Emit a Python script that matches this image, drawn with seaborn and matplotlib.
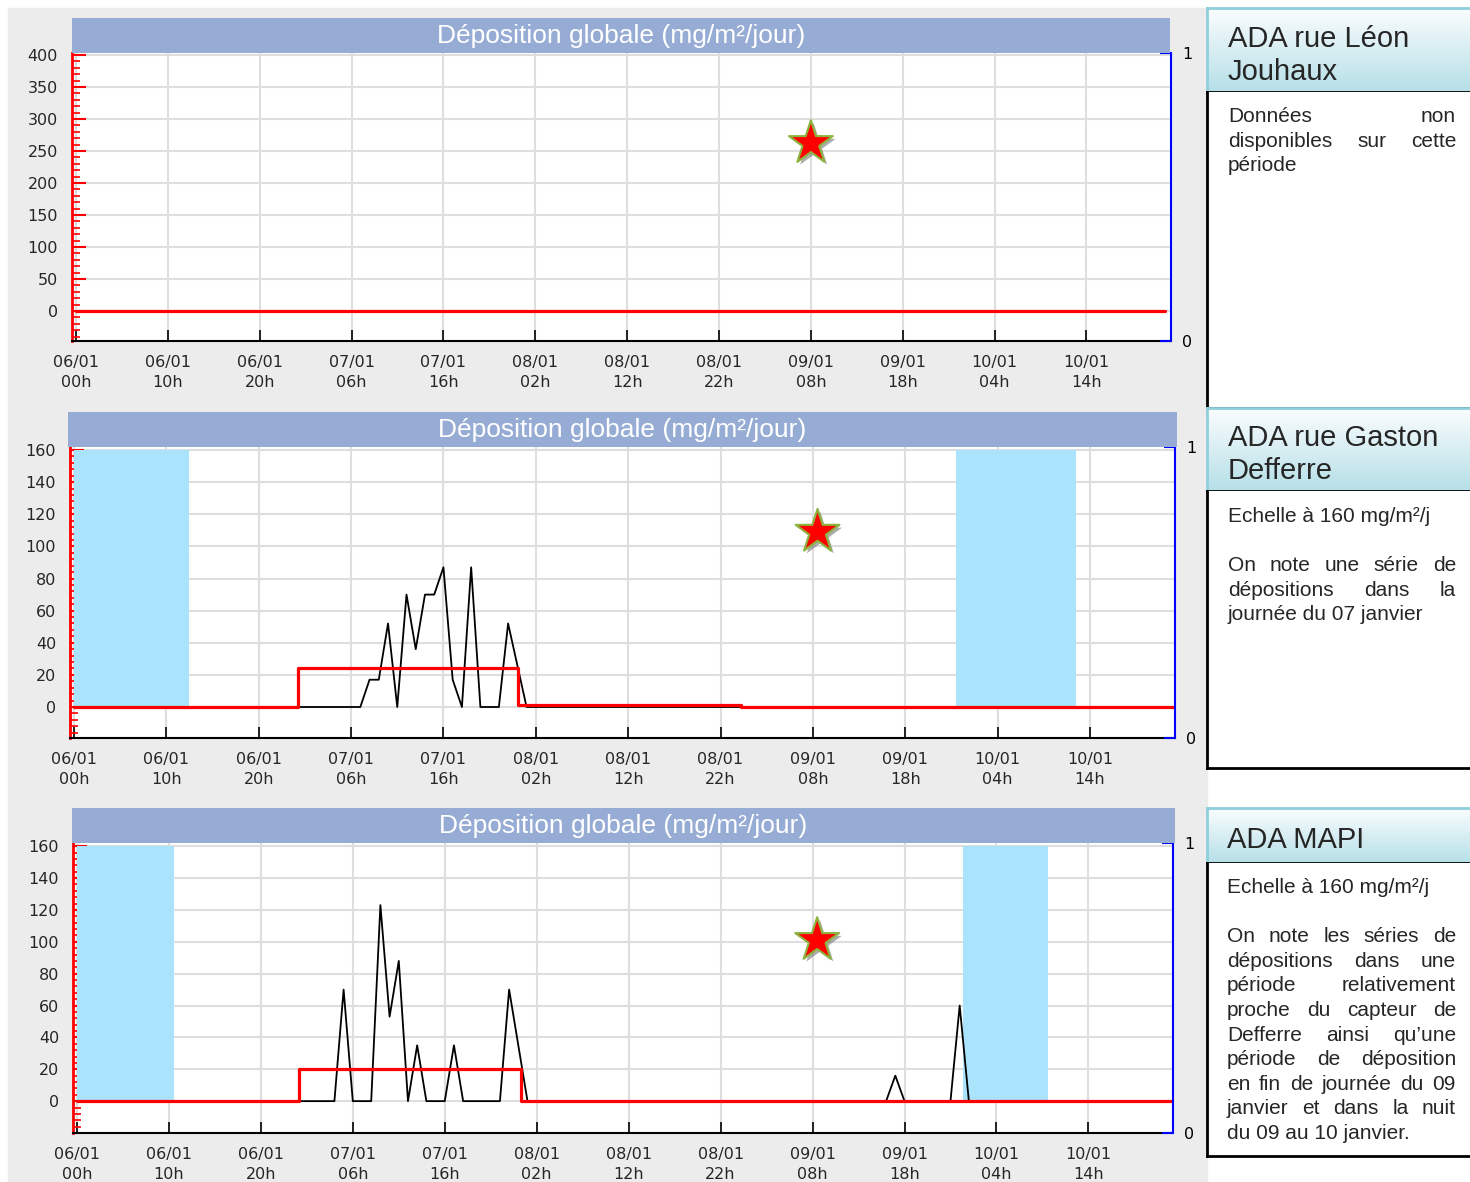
import numpy as np
import matplotlib
matplotlib.use("Agg")
import matplotlib.pyplot as plt
import seaborn as sns
from matplotlib import patheffects
from matplotlib.patches import Rectangle
from matplotlib.ticker import MultipleLocator
from matplotlib.colors import LinearSegmentedColormap

# -----------------------------
# Data (hours counted from 06/01 00h)
# -----------------------------
tick_hours = [0, 10, 20, 30, 40, 50, 60, 70, 80, 90, 100, 110]
tick_labels = ["06/01\n00h", "06/01\n10h", "06/01\n20h", "07/01\n06h",
               "07/01\n16h", "08/01\n02h", "08/01\n12h", "08/01\n22h",
               "09/01\n08h", "09/01\n18h", "10/01\n04h", "10/01\n14h"]
chart_title = "Déposition globale (mg/m²/jour)"

# panel 1 - Léon Jouhaux (no data)
p1_red_hours = [0, 118.5]
p1_red_values = [0, 0]
p1_star = (80, 262)

# panel 2 - Gaston Defferre
p2_hours = [0, 31, 32, 33, 34, 35, 36, 37, 38, 39, 40, 41, 42, 43, 44, 46, 47, 48, 49, 119]
p2_values = [0, 0, 17, 17, 52, 0, 70, 36, 70, 70, 87, 17, 0, 87, 0, 0, 52, 26, 0, 0]
p2_red_hours = [0, 24.2, 48.1, 72.2, 119]
p2_red_values = [0, 24, 1, 0, 0]
p2_night = [(0, 12.5), (95.5, 108.5)]
p2_star = (80.5, 109)

# panel 3 - MAPI
p3_hours = [0, 28, 29, 30, 32, 33, 34, 35, 36, 37, 38, 40, 41, 42, 46, 47, 48, 49,
            88, 89, 90, 95, 96, 97, 119]
p3_values = [0, 0, 70, 0, 0, 123, 53, 88, 0, 35, 0, 0, 35, 0, 0, 70, 35, 0,
             0, 16, 0, 0, 60, 0, 0]
p3_red_hours = [0, 24.1, 48.3, 119]
p3_red_values = [0, 20, 0, 0]
p3_night = [(0, 10.5), (96.4, 105.6)]
p3_star = (80.5, 101)

# side notes
box1_title = ["ADA rue Léon", "Jouhaux"]
box1_text = [("Données non", True), ("disponibles sur cette", True), ("période", False)]
box2_title = ["ADA rue Gaston", "Defferre"]
box2_text = [("Echelle à 160 mg/m²/j", False), ("", False),
             ("On note une série de", True), ("dépositions dans la", True),
             ("journée du 07 janvier", False)]
box3_title = ["ADA MAPI"]
box3_text = [("Echelle à 160 mg/m²/j", False), ("", False),
             ("On note les séries de", True), ("dépositions dans une", True),
             ("période relativement", True), ("proche du capteur de", True),
             ("Defferre ainsi qu’une", True), ("période de déposition", True),
             ("en fin de journée du 09", True), ("janvier et dans la nuit", True),
             ("du 09 au 10 janvier.", False)]

# -----------------------------
# Figure setup
# -----------------------------
sns.set_style("white")
plt.rcParams['font.family'] = ['DejaVu Sans']

W, H = 1470, 1182
fig = plt.figure(figsize=(W / 100, H / 100), dpi=100)


def rect(x0, y0, x1, y1):
    return [x0 / W, 1 - y1 / H, (x1 - x0) / W, (y1 - y0) / H]


fig.add_artist(Rectangle((8 / W, 0), (1207 - 8) / W, (H - 8) / H,
                         transform=fig.transFigure, color="#ececec", zorder=-10))

panels = [
    dict(ax=(72, 53, 1171, 341), bar=(72, 18, 1170, 53), ylim=(-47, 403), major=50, minor=10,
         ymax=400, black=None, red=(p1_red_hours, p1_red_values), night=[], star=p1_star),
    dict(ax=(70, 447, 1175, 738), bar=(68, 412, 1177, 447), ylim=(-19.3, 161.9), major=20, minor=4,
         ymax=160, black=(p2_hours, p2_values), red=(p2_red_hours, p2_red_values),
         night=p2_night, star=p2_star),
    dict(ax=(73, 843, 1173, 1133), bar=(72, 808, 1175, 843), ylim=(-20, 162), major=20, minor=4,
         ymax=160, black=(p3_hours, p3_values), red=(p3_red_hours, p3_red_values),
         night=p3_night, star=p3_star),
]

for p in panels:
    ax = fig.add_axes(rect(*p["ax"]))
    ax.set_facecolor("white")
    ax.set_xlim(-0.43, 119.2)
    ax.set_ylim(*p["ylim"])
    ax.set_axisbelow(True)

    for a, b in p["night"]:
        ax.fill_between([a, b], 0, p["ymax"], color="#aae3fc", lw=0, zorder=1)

    if p["black"] is not None:
        sns.lineplot(x=p["black"][0], y=p["black"][1], ax=ax, color="black",
                     lw=1.3, estimator=None, sort=False, zorder=2)
    sns.lineplot(x=p["red"][0], y=p["red"][1], ax=ax, color="red", lw=2.3,
                 drawstyle="steps-post", estimator=None, sort=False, zorder=3)
    sns.scatterplot(x=[p["star"][0]], y=[p["star"][1]], ax=ax, marker="*", s=1100,
                    color="red", edgecolor="#8db33f", linewidth=1.5, zorder=5)
    ax.collections[-1].set_path_effects([
        patheffects.SimplePatchShadow(offset=(2, -2), shadow_rgbFace="#777777", alpha=0.6),
        patheffects.Normal()])

    ax.set_xlabel("")
    ax.set_ylabel("")
    ax.set_xticks(tick_hours)
    ax.set_xticklabels(tick_labels, linespacing=1.45)
    ax.yaxis.set_minor_locator(MultipleLocator(p["minor"]))
    ax.set_yticks(np.arange(0, p["ymax"] + 1, p["major"]))
    ax.grid(True, which="major", color="#dedede", lw=1.5)

    ax.tick_params(axis="y", which="major", direction="in", color="red", length=10,
                   width=1.5, labelsize=11.5, pad=10, left=True)
    ax.tick_params(axis="y", which="minor", direction="in", color="red", length=6,
                   width=1.2, left=True)
    ax.tick_params(axis="x", direction="in", color="black", length=8, width=1.2,
                   labelsize=11.5, pad=10, bottom=True)
    for s in ["top", "right"]:
        ax.spines[s].set_visible(False)
    ax.spines["left"].set_color("red")
    ax.spines["left"].set_linewidth(2)
    ax.spines["bottom"].set_color("black")
    ax.spines["bottom"].set_linewidth(1.5)

    ax2 = ax.twinx()
    ax2.set_ylim(0, 1)
    ax2.set_yticks([0, 1])
    ax2.set_yticklabels(["0", "1"])
    ax2.tick_params(axis="y", direction="in", color="blue", labelcolor="black",
                    length=8, width=1.5, labelsize=11.5, pad=8)
    for s in ["top", "left", "bottom"]:
        ax2.spines[s].set_visible(False)
    ax2.spines["right"].set_color("blue")
    ax2.spines["right"].set_linewidth(1.5)

    tax = fig.add_axes(rect(*p["bar"]))
    tax.set_facecolor("#97acd4")
    tax.set_xticks([])
    tax.set_yticks([])
    for s in tax.spines.values():
        s.set_visible(False)
    tax.text(0.5, 0.5, chart_title, color="white", ha="center", va="center",
             fontsize=19, family="Liberation Sans", transform=tax.transAxes)

# -----------------------------
# Side boxes
# -----------------------------
renderer = fig.canvas.get_renderer()
grad = LinearSegmentedColormap.from_list("hdr", ["#fafdfe", "#b6dfe8"])


def put_line(text, x0, x1, y, justify, size):
    kw = dict(fontsize=size, family="Liberation Sans", va="baseline", ha="left")
    if not justify:
        fig.text(x0 / W, 1 - y / H, text, **kw)
        return
    words = text.split()
    arts = [fig.text(0, 1 - y / H, w, **kw) for w in words]
    widths = [a.get_window_extent(renderer).width for a in arts]
    gap = (x1 - x0 - sum(widths)) / (len(words) - 1)
    x = x0
    for a, w in zip(arts, widths):
        a.set_x(x / W)
        x += w + gap


def side_box(hdr, body, title, lines, title_base, text_base, x_text):
    hax = fig.add_axes(rect(*hdr))
    hax.imshow(np.linspace(0, 1, 64)[:, None], cmap=grad, aspect="auto", extent=[0, 1, 0, 1])
    hax.set_xlim(0, 1)
    hax.set_ylim(0, 1)
    hax.set_xticks([])
    hax.set_yticks([])
    hax.spines["right"].set_visible(False)
    for s in ["left", "top"]:
        hax.spines[s].set_color("#8ecfdc")
        hax.spines[s].set_linewidth(2)
    hax.spines["bottom"].set_color("black")
    hax.spines["bottom"].set_linewidth(2)

    bax = fig.add_axes(rect(*body))
    bax.set_facecolor("white")
    bax.set_xticks([])
    bax.set_yticks([])
    for s in ["right", "top"]:
        bax.spines[s].set_visible(False)
    for s in ["left", "bottom"]:
        bax.spines[s].set_color("black")
        bax.spines[s].set_linewidth(2)

    for i, t in enumerate(title):
        put_line(t, x_text, 1456, title_base + i * 33, False, 21)
    for i, (t, j) in enumerate(lines):
        if t:
            put_line(t, x_text, 1456, text_base + i * 24.6, j, 15)


side_box((1207, 8, 1470, 92), (1207, 92, 1470, 408), box1_title, box1_text, 47, 122, 1228)
side_box((1207, 408, 1470, 491), (1207, 491, 1470, 768), box2_title, box2_text, 446, 522, 1228)
side_box((1207, 808, 1470, 863), (1207, 863, 1470, 1156), box3_title, box3_text, 848, 893, 1227)

fig.savefig("out.png", dpi=100)
